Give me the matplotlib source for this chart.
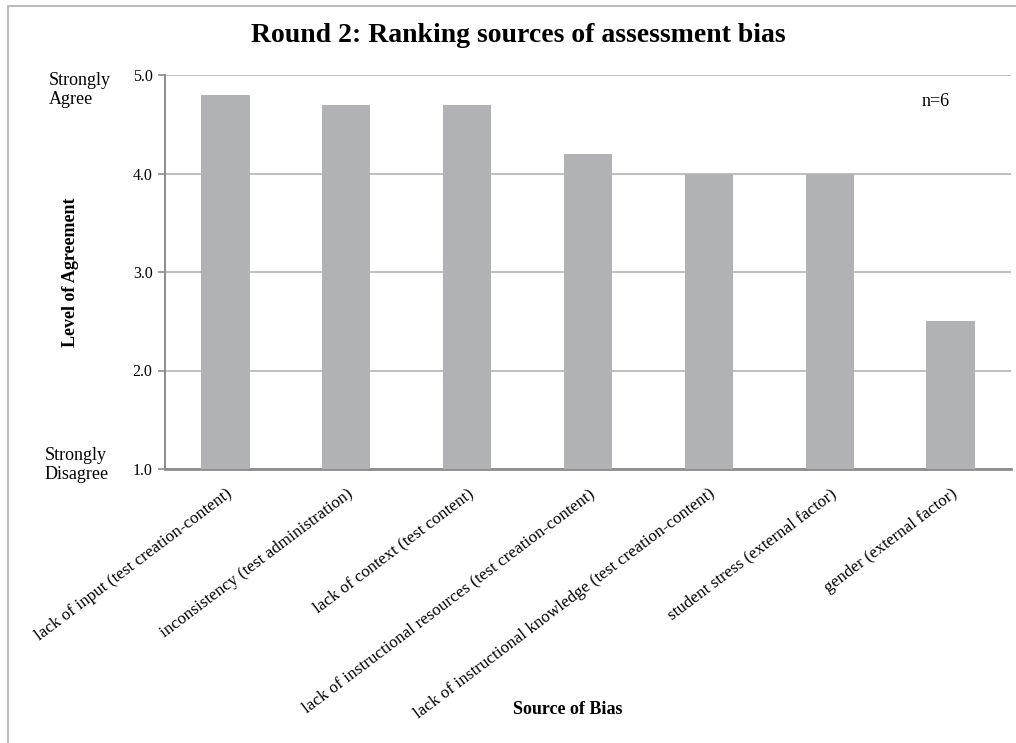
import matplotlib
matplotlib.use('Agg')
from matplotlib import pyplot as plt
from matplotlib.lines import Line2D

plt.rcParams['font.family'] = ['Liberation Serif', 'DejaVu Serif']

categories = ['lack of input (test creation-content)',
              'inconsistency (test administration)',
              'lack of context (test content)',
              'lack of instructional resources (test creation-content)',
              'lack of instructional knowledge (test creation-content)',
              'student stress (external factor)',
              'gender (external factor)']
scores = [4.8, 4.7, 4.7, 4.2, 4.0, 4.0, 2.5]
yticks = [1.0, 2.0, 3.0, 4.0, 5.0]

fig = plt.figure(figsize=(10.16, 7.43), dpi=100)
ax = fig.add_axes([165 / 1016, 1 - 469 / 743, 846 / 1016, 394 / 743])

xs = list(range(len(categories)))
ax.bar(xs, [s - 1.0 for s in scores], bottom=1.0, width=0.4,
       color='#b1b2b5', zorder=3)

ax.set_xlim(-0.5, len(categories) - 0.5)
ax.set_ylim(1.0, 5.0)
ax.set_yticks(yticks)
ax.set_yticklabels([f'{v:.1f}' for v in yticks], fontsize=11.5)
ax.yaxis.grid(True, color='#b4b4b4', linewidth=1.2, zorder=0)
ax.tick_params(axis='y', length=5, color='#8c8c8c', width=1.2, pad=4)
ax.tick_params(axis='x', length=0, pad=12)
ax.set_xticks(xs)
ax.set_xticklabels(categories, rotation=37, ha='right', va='top',
                   rotation_mode='anchor', fontsize=12.3)

for side in ['top', 'right']:
    ax.spines[side].set_visible(False)
ax.spines['left'].set_color('#8c8c8c')
ax.spines['left'].set_linewidth(1.4)
ax.spines['bottom'].set_color('#8c8c8c')
ax.spines['bottom'].set_linewidth(2)

ax.set_ylabel('Level of Agreement', fontsize=13, fontweight='bold', labelpad=0)
ax.yaxis.set_label_coords(-0.102, 0.5)
fig.text(568 / 1016, 1 - 709 / 743, 'Source of Bias', fontsize=13,
         fontweight='bold', ha='center', va='center')

fig.text(518 / 1016, 1 - 35 / 743, 'Round 2: Ranking sources of assessment bias',
         fontsize=20, fontweight='bold', ha='center', va='center')

fig.text(49 / 1016, 1 - 90 / 743, 'Strongly\nAgree', fontsize=13,
         ha='left', va='center', linespacing=1.1)
fig.text(45 / 1016, 1 - 465 / 743, 'Strongly\nDisagree', fontsize=13,
         ha='left', va='center', linespacing=1.1)
fig.text(936 / 1016, 1 - 101 / 743, 'n=6', fontsize=13, ha='center', va='center')

# outer border of the chart area (cropped on the right and bottom)
fig.add_artist(Line2D([8 / 1016, 8 / 1016, 1.0], [0.0, 1 - 6 / 743, 1 - 6 / 743],
                      transform=fig.transFigure, color='#bdbdbd', linewidth=1.5))

fig.savefig('out.png', dpi=100)
